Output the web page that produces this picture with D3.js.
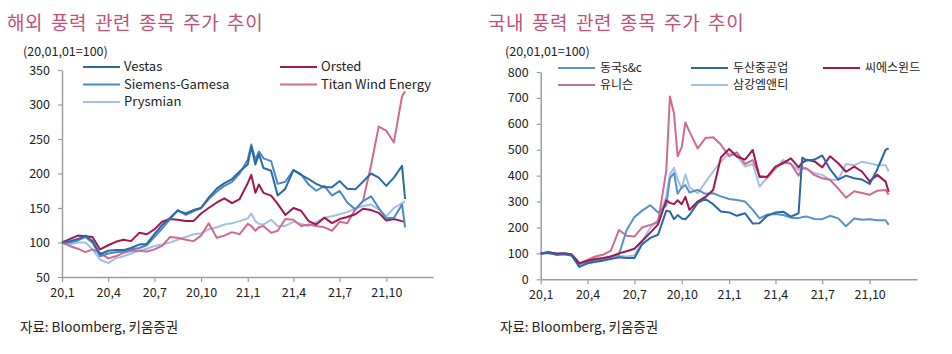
<!DOCTYPE html>
<html><head><meta charset="utf-8">
<script src="https://cdn.jsdelivr.net/npm/d3@7/dist/d3.min.js"></script>
<style>
body{margin:0;background:#fff;}
svg text{font-family:"Noto Sans CJK KR","Noto Sans",sans-serif;}
</style></head>
<body><svg id="c" width="952" height="354"></svg>
<script>
// ---------- LEFT: 해외 풍력 관련 종목 ----------
const datesL = ["2020-01-01","2020-01-16","2020-02-01","2020-02-16","2020-03-01","2020-03-16","2020-04-01","2020-04-16","2020-05-01","2020-05-16","2020-06-01","2020-06-16","2020-07-01","2020-07-16","2020-08-01","2020-08-16","2020-09-01","2020-09-16","2020-10-01","2020-10-16","2020-11-01","2020-11-16","2020-12-01","2020-12-16","2021-01-01","2021-01-08","2021-01-16","2021-01-23","2021-02-01","2021-02-16","2021-03-01","2021-03-16","2021-04-01","2021-04-16","2021-05-01","2021-05-16","2021-06-01","2021-06-16","2021-07-01","2021-07-16","2021-08-01","2021-08-16","2021-09-01","2021-09-16","2021-10-01","2021-10-16","2021-11-01","2021-11-07"];
const vestas   = [100,102,105,110,102,83,88,89,89,92,97,98,112,125,136,146,142,147,150,165,178,186,192,203,213,239,213,228,208,204,168,178,205,198,192,185,180,180,189,178,177,188,200,194,182,194,211,163];
const siemens  = [100,100,103,108,100,80,84,86,87,90,92,96,108,120,134,147,140,145,150,163,174,182,188,200,220,242,220,232,222,218,185,188,205,199,184,175,182,168,175,158,148,160,167,150,135,136,155,122];
const orsted   = [100,105,110,109,108,90,96,101,104,102,114,112,119,130,134,133,131,131,142,150,158,164,157,163,186,198,172,184,172,168,156,140,150,146,131,126,136,128,134,137,141,149,147,143,132,134,131,130];
const prysmian = [100,97,100,100,90,75,70,77,80,84,88,91,95,97,100,104,108,112,113,119,122,126,128,131,135,142,131,127,126,133,124,124,130,127,124,130,136,138,141,144,149,153,155,148,138,150,157,160];
const titan    = [100,95,91,86,90,85,77,80,85,88,88,87,90,95,108,107,104,102,110,128,107,110,115,112,127,124,117,122,124,114,117,134,133,124,126,124,122,117,130,128,148,160,212,268,262,245,312,319];
const namesL  = ["Vestas","Orsted","Siemens-Gamesa","Titan Wind Energy","Prysmian"];
const colorsL = ["#2c69a3","#a3164e","#4d88c6","#cf6a90","#a2bfe4"];
const seriesL = [vestas, orsted, siemens, titan, prysmian];
const yTicksL = [50,100,150,200,250,300,350];

// ---------- RIGHT: 국내 풍력 관련 종목 ----------
const datesR = ["2020-01-01","2020-01-16","2020-02-01","2020-02-16","2020-03-01","2020-03-16","2020-04-01","2020-04-16","2020-05-01","2020-05-16","2020-06-01","2020-06-16","2020-07-01","2020-07-16","2020-08-01","2020-08-16","2020-09-01","2020-09-08","2020-09-16","2020-09-23","2020-10-01","2020-10-08","2020-10-16","2020-11-01","2020-11-16","2020-12-01","2020-12-16","2021-01-01","2021-01-16","2021-02-01","2021-02-16","2021-03-01","2021-03-16","2021-04-01","2021-04-16","2021-05-01","2021-05-16","2021-05-23","2021-06-01","2021-06-16","2021-07-01","2021-07-16","2021-08-01","2021-08-16","2021-09-01","2021-09-16","2021-10-01","2021-10-16","2021-11-01","2021-11-07"];
const dongkuk  = [100,106,97,99,95,60,68,72,76,88,96,190,240,265,286,258,285,390,410,330,355,364,335,345,330,332,320,310,306,300,268,235,250,252,248,238,236,240,242,233,232,245,235,205,235,230,232,228,228,210];
const doosan   = [100,102,95,97,92,48,62,68,72,78,85,82,82,135,160,172,265,262,232,248,235,232,248,295,310,290,262,258,245,255,215,216,245,258,261,242,255,470,458,462,478,425,385,400,390,385,368,425,500,505];
const cswind   = [100,103,100,101,96,62,72,78,82,88,100,108,118,148,180,212,305,295,290,305,290,318,268,300,318,345,470,503,474,462,499,395,396,435,448,467,432,450,461,455,432,475,448,415,435,416,378,403,377,338];
const unison   = [100,103,98,100,95,60,75,88,95,110,190,168,165,200,210,220,420,705,640,475,510,605,570,505,545,548,520,475,490,445,460,400,392,430,452,446,400,429,428,402,390,384,350,315,340,333,326,342,345,326];
const samkang  = [100,100,96,98,92,55,62,68,76,82,90,88,92,145,200,230,320,405,430,385,350,405,355,332,375,416,455,485,477,435,445,358,392,425,461,445,422,435,425,409,403,384,384,445,440,454,448,440,440,416];
const namesR  = ["동국s&c","두산중공업","씨에스윈드","유니슨","삼강엠앤티"];
const colorsR = ["#5a90c9","#2b67a4","#a3164e","#cf6a90","#a3c0e5"];
const seriesR = [dongkuk, doosan, cswind, unison, samkang];
const yTicksR = [0,100,200,300,400,500,600,700,800];

const xTickLabels = ["20,1","20,4","20,7","20,10","21,1","21,4","21,7","21,10"];
const xTickDates  = ["2020-01-01","2020-04-01","2020-07-01","2020-10-01","2021-01-01","2021-04-01","2021-07-01","2021-10-01"];

const parse = d3.timeParse("%Y-%m-%d");
const svg = d3.select("#c");

function panel(o){
  const g = svg.append("g");
  g.append("text").attr("x",o.titleX).attr("y",30).attr("fill","#c0517c")
    .attr("font-size",19).attr("letter-spacing","0.6px").attr("word-spacing","3px").text(o.title);
  g.append("text").attr("x",o.baseX).attr("y",56).attr("fill","#222")
    .attr("font-size",12.5).text("(20,01,01=100)");
  const x = d3.scaleTime().domain([parse("2020-01-01"),parse("2022-01-01")]).range([o.x0,o.x1]);
  const y = d3.scaleLinear().domain(o.yDomain).range([o.yb,o.yt]);
  const ya = g.append("g").attr("transform",`translate(${o.x0},0)`)
    .call(d3.axisLeft(y).tickValues(o.yTicks).tickSize(4).tickPadding(8).tickSizeOuter(0));
  const xa = g.append("g").attr("transform",`translate(0,${o.yb})`)
    .call(d3.axisBottom(x).tickValues(xTickDates.map(parse)).tickFormat((d,i)=>xTickLabels[i]).tickSize(5).tickPadding(6).tickSizeOuter(0));
  [ya,xa].forEach(a=>{
    a.select(".domain").attr("stroke","#9c9c9c").attr("stroke-width",1.5);
    a.selectAll(".tick line").attr("stroke","#9c9c9c").attr("stroke-width",1.2);
    a.selectAll(".tick text").attr("fill","#222").attr("font-size",12.5)
      .style("font-family",'"Noto Sans CJK KR","Noto Sans",sans-serif');
  });
  const dts = o.dates.map(parse);
  const line = d3.line().x((d,i)=>x(dts[i])).y(d=>y(d));
  o.order.forEach(k=>{
    g.append("path").datum(o.series[k]).attr("fill","none").attr("stroke",o.colors[k])
      .attr("stroke-width",2).attr("stroke-linejoin","round").attr("d",line);
  });
  o.legend.forEach((p,k)=>{
    g.append("line").attr("x1",p[0]).attr("x2",p[0]+o.legLen).attr("y1",p[1]).attr("y2",p[1])
      .attr("stroke",o.colors[k]).attr("stroke-width",2);
    g.append("text").attr("x",p[0]+o.legLen+o.legGap).attr("y",p[1]+4.3).attr("fill","#222")
      .attr("font-size",o.legFont).text(o.names[k]);
  });
  g.append("text").attr("x",o.srcX).attr("y",332).attr("fill","#222").attr("font-size",13.5)
    .text("자료: Bloomberg, 키움증권");
}

panel({title:"해외 풍력 관련 종목 주가 추이", titleX:7, baseX:23, x0:62, x1:433, yb:277, yt:70,
  yDomain:[50,350], yTicks:yTicksL, dates:datesL, series:seriesL, colors:colorsL, names:namesL,
  order:[4,3,1,2,0], legFont:13,
  legend:[[83,67],[280,67],[83,84.5],[280,84.5],[83,102]], legLen:37, legGap:4, srcX:20});

panel({title:"국내 풍력 관련 종목 주가 추이", titleX:488, baseX:505, x0:540.7, x1:917, yb:279.3, yt:72,
  yDomain:[0,800], yTicks:yTicksR, dates:datesR, series:seriesR, colors:colorsR, names:namesR,
  order:[4,3,0,2,1], legFont:12,
  legend:[[558,68],[691,68],[823,68],[558,85],[691,85]], legLen:37, legGap:5, srcX:500});
</script></body></html>
